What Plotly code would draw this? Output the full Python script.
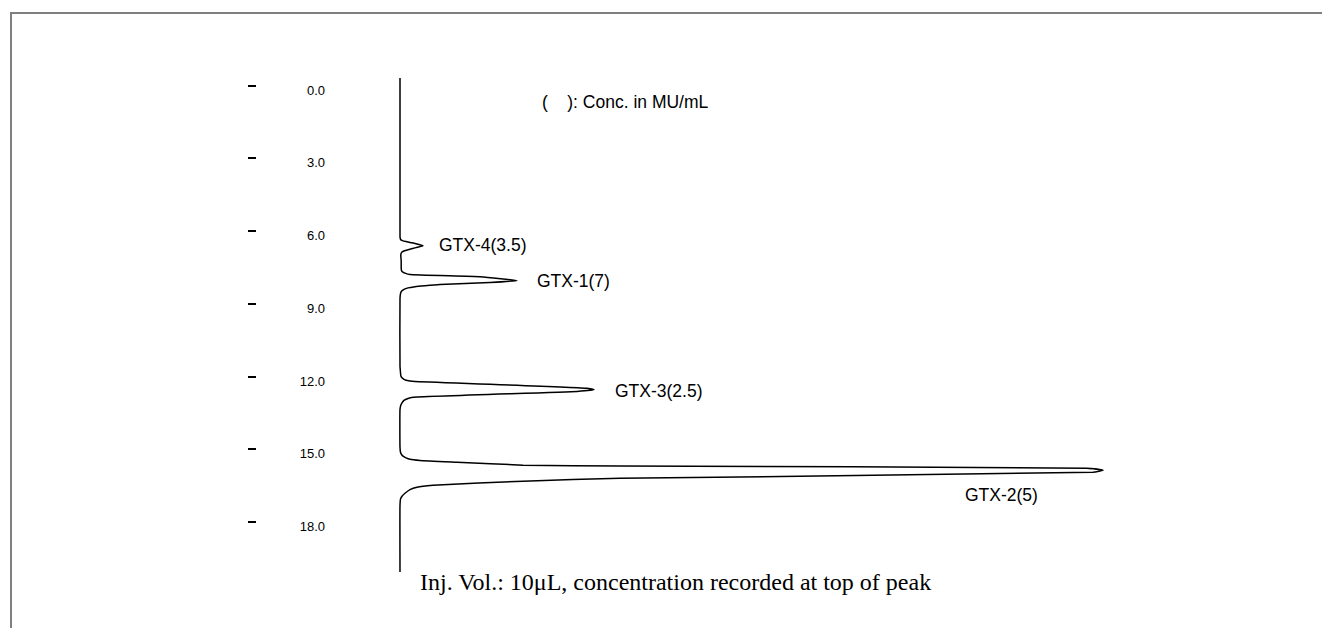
import plotly.graph_objects as go

# ---- data (time in min, detector signal in arbitrary units) ----
time_min = [-0.49,
            6.05, 6.13, 6.18, 6.21, 6.25, 6.30, 6.42, 6.50, 6.58, 6.63, 6.68, 6.75, 6.85,
            7.05, 7.35,
            7.45, 7.50, 7.55, 7.61, 7.70, 7.86, 7.94, 8.02, 8.07, 8.11, 8.16, 8.22, 8.30, 8.40, 8.60,
            11.40, 11.55, 11.70, 11.81, 11.90, 11.97, 12.00, 12.02, 12.30, 12.36, 12.43, 12.67, 12.72, 12.80, 12.90, 13.00, 13.17,
            14.73, 14.94, 15.03, 15.10, 15.17, 15.23, 15.28, 15.35, 15.47, 15.51, 15.60, 15.68, 15.76,
            16.01, 16.13, 16.30, 16.38, 16.48, 16.63, 16.75, 16.87, 17.12,
            19.88]
signal = [0,
          0, 0.3, 1, 2.5, 6, 12, 23, 16, 9, 4.5, 2, 1, 0.8,
          1.2, 1.2,
          1.5, 2.5, 5, 10, 80, 117, 90, 40, 25, 15, 8, 4, 1.5, 0.5, 0,
          0, 0.3, 0.6, 1, 3, 6, 10, 15, 187, 194, 177, 13, 8, 4, 2, 0.8, 0,
          0, 0.5, 1.5, 3, 6, 10, 20, 57, 123, 220, 687, 703, 693,
          220, 123, 33, 17, 10, 5, 2, 0.5, 0,
          0]

peak_names = ["GTX-4(3.5)", "GTX-1(7)", "GTX-3(2.5)", "GTX-2(5)"]
label_time = [6.41, 7.88, 12.41, 16.70]
label_signal = [37, 135, 213, 563]

tick_vals = [0, 3, 6, 9, 12, 15, 18]
tick_text = ["0.0", "3.0", "6.0", "9.0", "12.0", "15.0", "18.0"]

note_conc = "(\u00a0\u00a0\u00a0\u00a0): Conc. in MU/mL"
note_inj = "Inj. Vol.: 10\u03bcL, concentration recorded at top of peak"

# ---- layout calibration (figure pixels) ----
W, H = 1330, 628
BASE_PX = 392                    # pixel of zero signal
L, R, T, B = 192, 158, 32, 16
PX0, PXPM = 82.0, 24.25          # pixel of t=0, pixels per minute
plot_w = W - L - R
plot_h = H - T - B
y_top = (T - PX0) / PXPM
y_bot = (H - B - PX0) / PXPM
x_left = -(BASE_PX - L)
x_right = x_left + plot_w

def paper_x(px):
    return (px - L) / plot_w

def paper_y(py):
    return (H - B - py) / plot_h

dash_off = 4.3 / PXPM

fig = go.Figure()
fig.add_trace(go.Scatter(x=signal, y=time_min, mode="lines",
                         line=dict(color="black", width=1.5, shape="spline", smoothing=0.4),
                         hoverinfo="skip", showlegend=False))
fig.add_trace(go.Scatter(x=[None], y=[None], yaxis="y2", showlegend=False, hoverinfo="skip"))

for name, t, s in zip(peak_names, label_time, label_signal):
    fig.add_annotation(x=s, y=t, text=name, showarrow=False, xanchor="left", yanchor="middle",
                       font=dict(family="Arial, Liberation Sans", size=17.5, color="black"))

fig.add_annotation(x=140, y=0.495, text=note_conc, showarrow=False, xanchor="left", yanchor="middle",
                   font=dict(family="Arial, Liberation Sans", size=17.5, color="black"))
fig.add_annotation(x=275, y=20.29, text=note_inj, showarrow=False, xanchor="center", yanchor="middle",
                   font=dict(family="Times New Roman, Liberation Serif", size=24, color="black"))

fig.add_shape(type="rect", xref="paper", yref="paper",
              x0=paper_x(3), x1=paper_x(W + 20), y0=paper_y(5), y1=paper_y(H + 20),
              line=dict(color="#7f7f7f", width=2), fillcolor="rgba(0,0,0,0)")

fig.update_layout(
    width=W, height=H,
    margin=dict(l=L, r=R, t=T, b=B),
    paper_bgcolor="white", plot_bgcolor="white",
    xaxis=dict(range=[x_left, x_right], visible=False),
    yaxis=dict(range=[y_bot, y_top], anchor="free", position=paper_x(317),
               tickvals=tick_vals, ticktext=tick_text, ticks="",
               showline=False, showgrid=False, zeroline=False,
               tickfont=dict(family="Arial, Liberation Sans", size=13, color="black")),
    yaxis2=dict(range=[y_bot + dash_off, y_top + dash_off], overlaying="y", anchor="free",
                position=paper_x(248), tickvals=tick_vals, ticks="outside", ticklen=8,
                tickwidth=1.5, tickcolor="black", showticklabels=False,
                showline=False, showgrid=False, zeroline=False),
)

fig.write_html("out.html")
